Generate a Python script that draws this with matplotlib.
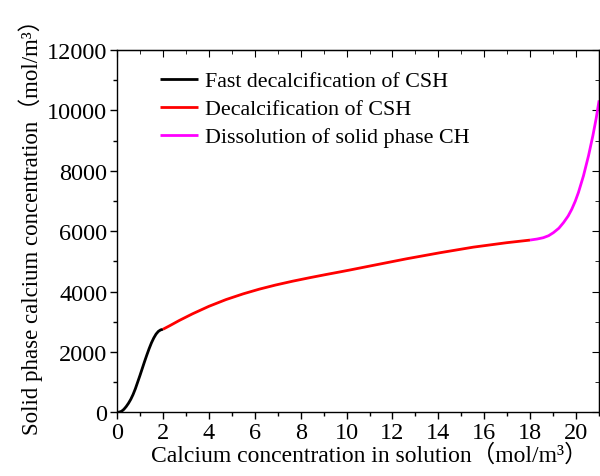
import matplotlib
matplotlib.use("Agg")
import matplotlib.pyplot as plt
from matplotlib.ticker import MultipleLocator

# Data
fast_x = [0, 0.1, 0.2, 0.3, 0.4, 0.5, 0.6, 0.7, 0.8, 0.9, 1.0, 1.1, 1.2, 1.3, 1.4,
          1.5, 1.6, 1.7, 1.8, 1.9, 2.0]
fast_y = [0, 8, 35, 100, 190, 300, 430, 590, 780, 1000, 1220, 1450, 1680, 1900, 2110,
          2300, 2460, 2590, 2680, 2730, 2750]

decal_x = [2.0, 2.3, 2.71, 3.29, 4.0, 4.75, 5.5, 6.2, 6.9, 7.66, 8.4, 9.11, 9.69,
           10.13, 11.15, 12.61, 14.06, 15.52, 16.97, 17.99]
decal_y = [2750, 2870, 3041, 3263, 3510, 3735, 3925, 4080, 4215, 4345, 4460, 4565, 4648,
           4712, 4866, 5085, 5285, 5471, 5618, 5705]

diss_x = [17.99, 18.3, 18.57, 18.8, 19.01, 19.25, 19.45, 19.65, 19.81, 19.96, 20.10,
          20.32, 20.54, 20.73, 20.87, 21.0]
diss_y = [5705, 5740, 5784, 5850, 5951, 6100, 6284, 6500, 6727, 6990, 7283,
          7836, 8502, 9168, 9724, 10333]

labels = ["Fast decalcification of CSH", "Decalcification of CSH",
          "Dissolution of solid phase CH"]
colors = ["black", "red", "#ff00ff"]

plt.rcParams['font.family'] = ['Liberation Serif', 'Noto Sans CJK SC']

fig = plt.figure(figsize=(6.0, 4.77), dpi=100)
ax = fig.add_axes([0.195, 0.1335, 0.8035, 0.7595])

ax.plot(fast_x, fast_y, color=colors[0], lw=2.0, label=labels[0], solid_capstyle='butt')
ax.plot(decal_x, decal_y, color=colors[1], lw=2.0, label=labels[1], solid_capstyle='butt')
ax.plot(diss_x, diss_y, color=colors[2], lw=2.0, label=labels[2], solid_capstyle='butt')

ax.set_xlim(0, 21)
ax.set_ylim(0, 12000)
ax.xaxis.set_major_locator(MultipleLocator(2))
ax.xaxis.set_minor_locator(MultipleLocator(1))
ax.yaxis.set_major_locator(MultipleLocator(2000))
ax.yaxis.set_minor_locator(MultipleLocator(1000))

ax.tick_params(axis='both', which='both', labelsize=17.5, width=1.0, pad=2)
ax.tick_params(axis='both', which='major', length=5, direction='out')
ax.tick_params(axis='both', which='minor', length=3, direction='out')

# Inward ticks on top and right
secx = ax.secondary_xaxis('top')
secx.xaxis.set_major_locator(MultipleLocator(2))
secx.xaxis.set_minor_locator(MultipleLocator(1))
secx.tick_params(which='both', direction='in', labeltop=False)
secx.tick_params(which='major', length=5)
secx.tick_params(which='minor', length=3)
secy = ax.secondary_yaxis('right')
secy.yaxis.set_major_locator(MultipleLocator(2000))
secy.yaxis.set_minor_locator(MultipleLocator(1000))
secy.tick_params(which='both', direction='in', labelright=False)
secy.tick_params(which='major', length=5)
secy.tick_params(which='minor', length=3)

for s in ax.spines.values():
    s.set_linewidth(1.0)

ax.set_xlabel("Calcium concentration in solution（mol/m³）", fontsize=17)
ax.set_ylabel("Solid phase calcium concentration（mol/m³）", fontsize=16.5)
ax.xaxis.set_label_coords(0.523, -0.085)
ax.yaxis.set_label_coords(-0.153, 0.528)

ax.legend(loc='upper left', bbox_to_anchor=(0.0475, 0.997), frameon=False,
          fontsize=15.8, handlelength=1.75, handletextpad=0.3, labelspacing=0.35)

fig.savefig("out.png", dpi=100)
